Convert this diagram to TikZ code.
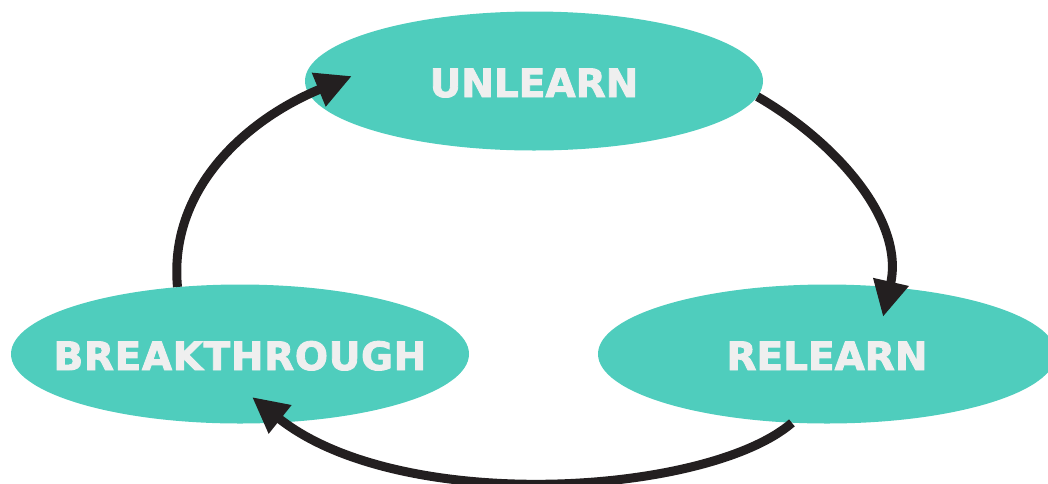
\documentclass[tikz,border=0pt]{standalone}
\usepackage{fontspec}
\usetikzlibrary{shapes.geometric,arrows.meta,calc}
\newfontfamily\labelfont{DejaVu Sans Bold}[FakeBold=2.2]
\definecolor{stagefill}{HTML}{4FCDBD}
\definecolor{stagetext}{HTML}{EFEFEF}
\definecolor{cycleink}{HTML}{231F20}
% zero-width label box, so the ellipse keeps its own size
\newcommand{\stagelabel}[1]{\makebox[0pt]{#1}}
\tikzset{
  stage/.style={ellipse, fill=stagefill, draw=none, inner sep=0pt,
    minimum width=458pt, minimum height=139pt,
    text height=32pt, text depth=0pt,
    text=stagetext, font=\labelfont\fontsize{39}{39}\selectfont},
  cyclearrow/.style={draw=cycleink, line width=9pt,
    -{Triangle[length=36pt,width=34pt]}}
}
\begin{document}
\begin{tikzpicture}[x=1pt,y=-1pt]
  \useasboundingbox (0,0) rectangle (1048,483);
  \clip (0,0) rectangle (1048,483);

  % the three stages of the cycle
  \node[stage] (un) at (534,81)  {\stagelabel{UNLEARN}};
  \node[stage] (rl) at (827,354) {\stagelabel{RELEARN}};
  \node[stage] (bt) at (240,354) {\stagelabel{\addfontfeature{LetterSpace=1.7}BREAKTHROUGH}};

  % arrow tips sit a little inside the next stage
  \coordinate (t1) at ($(rl)+(56,-37)$);
  \coordinate (t2) at ($(bt)+(12,43)$);
  \coordinate (t3) at ($(un)+(-182,-5)$);

  % clockwise arrows
  \draw[cyclearrow] (un.-4)  .. controls +(78,45)  and +(22,-97)  .. (t1);
  \draw[cyclearrow] (rl.243) .. controls +(-85,73) and +(148,118) .. (t2);
  \draw[cyclearrow] (bt.133) .. controls +(-9,-97) and +(-107,44) .. (t3);
\end{tikzpicture}
\end{document}
